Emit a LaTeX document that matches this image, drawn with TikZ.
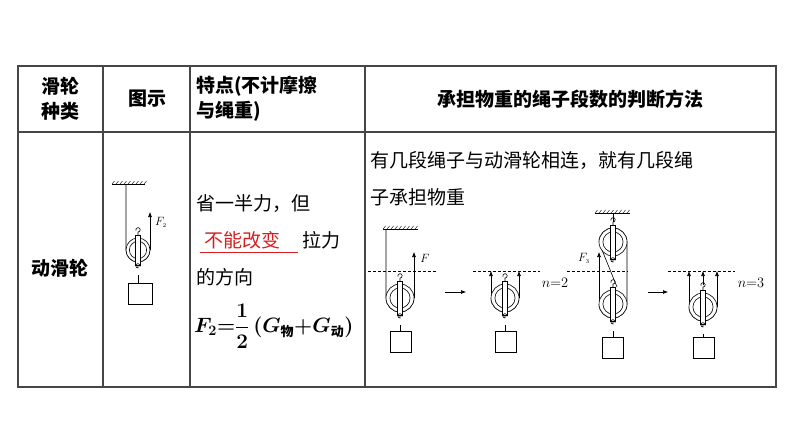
\documentclass[tikz,border=0pt]{standalone}
\usepackage{fontspec}
\setmainfont{Liberation Serif}
\newfontfamily\cjk{Noto Sans CJK SC}
\usetikzlibrary{arrows.meta}
\definecolor{gridgray}{RGB}{70,70,70}
\definecolor{tipred}{RGB}{215,30,30}
% one wheel with strap and hooks, centre #1,#2, outer radius #3
\newcommand{\wheel}[3]{%
  \draw[line width=0.6pt,fill=white] (#1,#2) circle (#3);
  \draw[line width=0.6pt] (#1,#2) circle (#3*0.72);
  \draw[line width=0.6pt,fill=white] (#1-2.5,#2-#3-3) rectangle (#1+2.5,#2+#3+3);
  \draw[line width=0.6pt] (#1,#2-#3-3) -- (#1,#2-#3-6) arc (90:-200:2.2);
  \draw[line width=0.6pt] (#1,#2+#3+3) -- (#1,#2+#3+6) arc (90:380:2.2);
}
\newcommand{\ceiling}[3]{%
  \draw[line width=0.7pt] (#1,#3) -- (#2,#3);
  \foreach \h in {0,4,...,32} \draw[line width=0.4pt] ({#1+\h},#3) -- ({#1+\h+2.5},#3-3);
}
\tikzset{
  cell/.style={font=\cjk\fontsize{19}{25}\selectfont,inner sep=0pt},
  head/.style={cell,font=\cjk\bfseries\fontsize{19}{25}\selectfont},
  rope/.style={line width=0.6pt},
  pull/.style={rope,-{Latex[length=5pt,width=4pt]}},
  level/.style={line width=0.6pt,dash pattern=on 3pt off 2pt},
  load/.style={line width=0.7pt},
  small/.style={font=\itshape\fontsize{12}{12}\selectfont,inner sep=0pt}
}
\begin{document}
\begin{tikzpicture}[x=1pt,y=-1pt]
\useasboundingbox (0,0) rectangle (794,447);
% table grid
\draw[gridgray,line width=1.6pt] (18,66) rectangle (776,387);
\draw[gridgray,line width=1.4pt] (18,132) -- (776,132);
\foreach \cx in {103,190,365} \draw[gridgray,line width=1.4pt] (\cx,66) -- (\cx,387);
% header
\node[head,align=center] (kind) at (60,99) {滑轮\\种类};
\node[head] (pic) at (147,99) {图示};
\node[head,align=left,anchor=west] (feat) at (196,99) {特点(不计摩擦\\与绳重)};
\node[head] (judge) at (570,99) {承担物重的绳子段数的判断方法};
% body
\node[head] (dyn) at (60,268) {动滑轮};
\node[cell,anchor=west] (t1) at (196,204) {省一半力，但};
\node[cell,anchor=west,text=tipred] (t2) at (204,240) {不能改变};
\draw[tipred,line width=1pt] (200,252) -- (298,252);
\node[cell,anchor=west] (t3) at (302,240) {拉力};
\node[cell,anchor=west] (t4) at (196,277) {的方向};
\node[anchor=west,inner sep=0pt,font=\fontsize{21}{24}\selectfont\boldmath] (t5) at (194,326)
  {$F_2{=}\displaystyle\frac{1}{2}\,(G_{\mbox{\cjk\bfseries\fontsize{13}{13}\selectfont 物}}{+}G_{\mbox{\cjk\bfseries\fontsize{13}{13}\selectfont 动}})$};
\node[cell,anchor=west] (r1) at (370,160) {有几段绳子与动滑轮相连，就有几段绳};
\node[cell,anchor=west] (r2) at (370,197) {子承担物重};
% figure in column 2
\ceiling{112}{145}{184}
\draw[rope] (126,184) -- (126,250) arc (180:0:12);
\draw[pull] (150,250) -- (150,212);
\node[small] (f2) at (161,222) {$F_{\scriptscriptstyle 2}$};
\wheel{138}{250}{12}
\draw[rope] (138,275) -- (138,283);
\draw[load] (128,283) rectangle (152,304);
% figure 1: single wheel, one end fixed
\ceiling{383}{418}{229}
\draw[level] (368,271) -- (437,271);
\draw[rope] (386,229) -- (386,298) arc (180:0:14);
\draw[pull] (414,298) -- (414,252);
\node[small] (fa) at (425,258) {$F$};
\wheel{400}{298}{14}
\draw[rope] (400,325) -- (400,331);
\draw[load] (390,331) rectangle (411,352);
\draw[pull] (445,292) -- (466,292);
% figure 2
\draw[level] (473,271) -- (540,271);
\draw[rope] (491,298) arc (180:0:14);
\draw[pull] (491,298) -- (491,271);
\draw[pull] (519,298) -- (519,271);
\wheel{505}{298}{14}
\draw[rope] (505,325) -- (505,331);
\draw[load] (495,331) rectangle (516,352);
\node[small,font=\itshape\fontsize{14}{14}\selectfont] (n2) at (555,283) {$n{=}2$};
% figure 3: fixed and movable wheel
\ceiling{595}{630}{213}
\draw[level] (567,271) -- (628,271);
\draw[rope] (613,213) -- (613,222);
\draw[rope] (599,242) arc (180:360:14) -- (627,304) arc (0:180:14);
\draw[rope] (602,250) -- (617,287);
\draw[pull] (599,304) -- (599,252);
\node[small] (f3) at (584,258) {$F_{\scriptscriptstyle 3}$};
\wheel{613}{242}{14}
\wheel{613}{304}{14}
\draw[rope] (613,331) -- (613,337);
\draw[load] (602,337) rectangle (623,358);
\draw[pull] (648,292) -- (668,292);
% figure 4
\draw[level] (668,271) -- (735,271);
\draw[rope] (689,307) arc (180:0:14);
\draw[pull] (689,307) -- (689,271);
\draw[pull] (717,307) -- (717,271);
\draw[pull] (703,285) -- (703,271);
\wheel{703}{307}{14}
\draw[rope] (703,334) -- (703,337);
\draw[load] (693,337) rectangle (714,358);
\node[small,font=\itshape\fontsize{14}{14}\selectfont] (n3) at (751,283) {$n{=}3$};
\end{tikzpicture}
\end{document}
